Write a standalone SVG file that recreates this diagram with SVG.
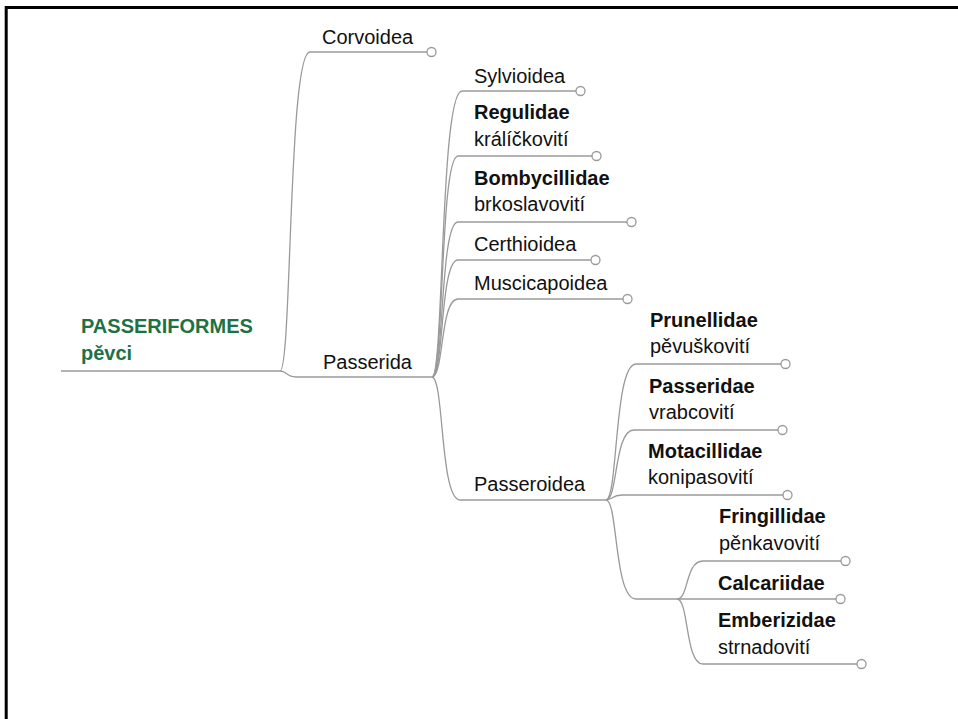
<svg xmlns="http://www.w3.org/2000/svg" width="958" height="719" viewBox="0 0 958 719">
<style>
.t{font-family:"Liberation Sans",Arial,sans-serif;font-size:20px;fill:#111}
.b{font-weight:bold}
.root{font-family:"Liberation Sans",Arial,sans-serif;font-size:20px;font-weight:bold;fill:#1e7145}
.c{fill:none;stroke:#9a9a9a;stroke-width:1.3}
.e{fill:#fff;stroke:#9a9a9a;stroke-width:1.3}
</style>
<rect x="0" y="0" width="958" height="719" fill="#fff"/>
<path d="M6.2,719 V7.5 H958" fill="none" stroke="#000" stroke-width="3"/>
<g id="connectors">
<path class="c" d="M61,371 L280,371"/>
<path class="c" d="M280,371 C292,371 288,52 310,52 L427,52"/>
<path class="c" d="M280,371 C287,371 286,377 296,377 L432,377"/>
<path class="c" d="M432,377 C444,377 440,91 462,91 L576,91"/>
<path class="c" d="M432,377 C444,377 440,156 458,156 L592,156"/>
<path class="c" d="M432,377 C444,377 440,222 458,222 L627,222"/>
<path class="c" d="M432,377 C444,377 440,260 458,260 L591,260"/>
<path class="c" d="M432,377 C444,377 440,299 458,299 L623,299"/>
<path class="c" d="M432,377 C444,377 440,500 460,500 L606,500"/>
<path class="c" d="M606,500 C618,500 614,364 636,364 L781,364"/>
<path class="c" d="M606,500 C618,500 614,430 634,430 L778,430"/>
<path class="c" d="M606,500 C612,500 612,495 622,495 L783,495"/>
<path class="c" d="M606,500 C618,500 614,599 636,599 L836,599"/>
<path class="c" d="M677,599 C689,599 685,561 703,561 L841,561"/>
<path class="c" d="M677,599 C689,599 685,664 703,664 L857,664"/>
</g>
<g id="n-root"><text class="root" x="81" y="333">PASSERIFORMES</text><text class="root" x="81" y="360">pěvci</text></g>
<g id="n-corvoidea"><text class="t" x="322" y="44">Corvoidea</text><circle class="e" cx="431.5" cy="52" r="4.5"/></g>
<g id="n-passerida"><text class="t" x="323" y="369">Passerida</text></g>
<g id="n-sylvioidea"><text class="t" x="474" y="83">Sylvioidea</text><circle class="e" cx="580.5" cy="91" r="4.5"/></g>
<g id="n-regulidae"><text class="t b" x="474" y="119">Regulidae</text><text class="t" x="474" y="146">králíčkovití</text><circle class="e" cx="596.5" cy="156" r="4.5"/></g>
<g id="n-bombycillidae"><text class="t b" x="474" y="185">Bombycillidae</text><text class="t" x="474" y="211">brkoslavovití</text><circle class="e" cx="631.5" cy="222" r="4.5"/></g>
<g id="n-certhioidea"><text class="t" x="474" y="251">Certhioidea</text><circle class="e" cx="595.5" cy="260" r="4.5"/></g>
<g id="n-muscicapoidea"><text class="t" x="474" y="290">Muscicapoidea</text><circle class="e" cx="627.5" cy="299" r="4.5"/></g>
<g id="n-passeroidea"><text class="t" x="474" y="491">Passeroidea</text></g>
<g id="n-prunellidae"><text class="t b" x="650" y="327">Prunellidae</text><text class="t" x="650" y="353">pěvuškovití</text><circle class="e" cx="785.5" cy="364" r="4.5"/></g>
<g id="n-passeridae"><text class="t b" x="649" y="393">Passeridae</text><text class="t" x="649" y="419">vrabcovití</text><circle class="e" cx="782.5" cy="430" r="4.5"/></g>
<g id="n-motacillidae"><text class="t b" x="648" y="458">Motacillidae</text><text class="t" x="648" y="484">konipasovití</text><circle class="e" cx="787.5" cy="495" r="4.5"/></g>
<g id="n-fringillidae"><text class="t b" x="719" y="523">Fringillidae</text><text class="t" x="719" y="550">pěnkavovití</text><circle class="e" cx="845.5" cy="561" r="4.5"/></g>
<g id="n-calcariidae"><text class="t b" x="718" y="590">Calcariidae</text><circle class="e" cx="840.5" cy="599" r="4.5"/></g>
<g id="n-emberizidae"><text class="t b" x="718" y="627">Emberizidae</text><text class="t" x="718" y="654">strnadovití</text><circle class="e" cx="861.5" cy="664" r="4.5"/></g>
</svg>
